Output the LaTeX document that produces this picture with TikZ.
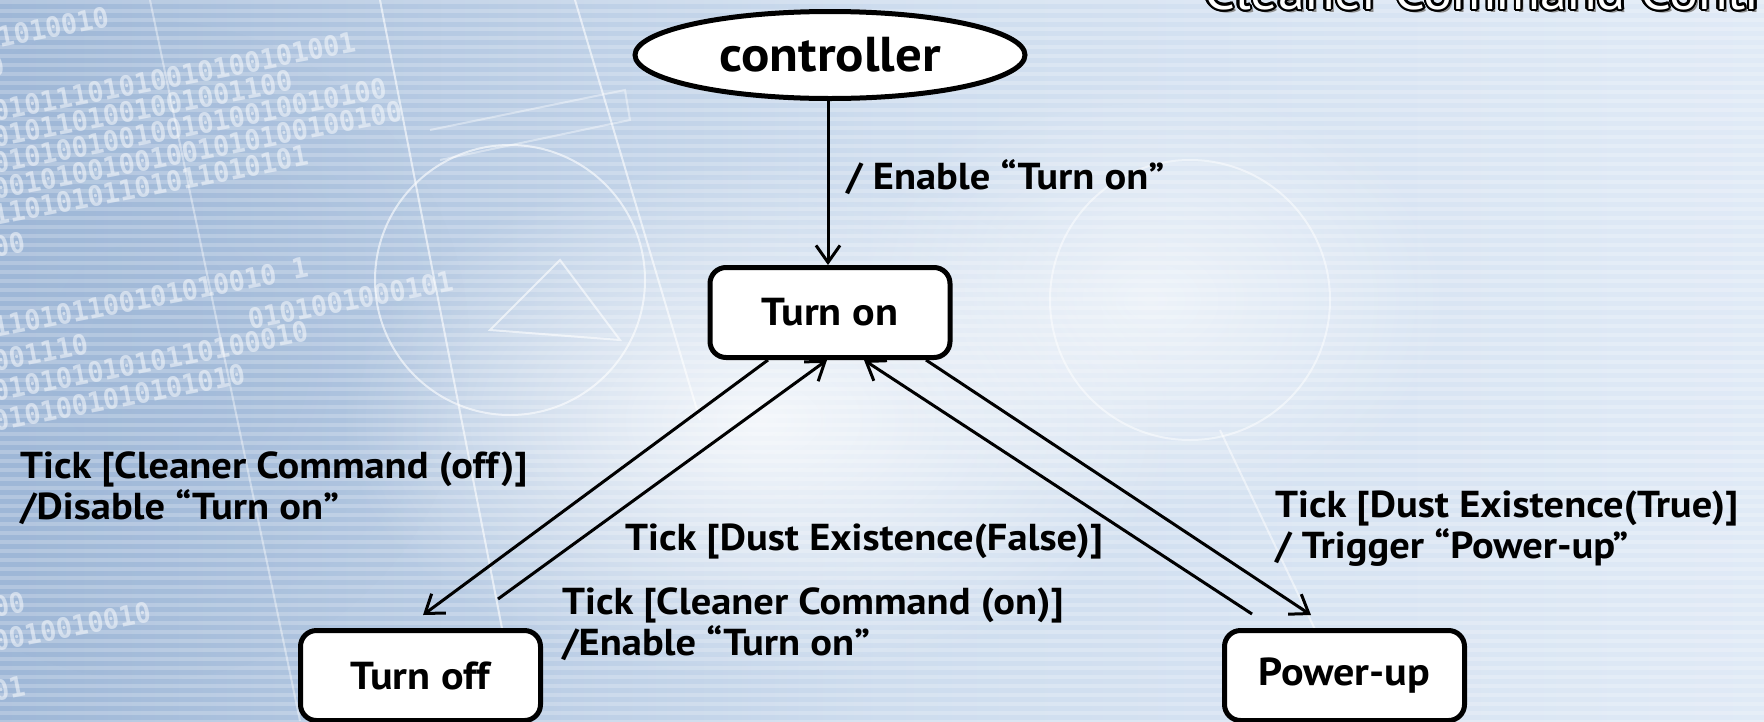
\documentclass[tikz,border=0pt]{standalone}
\usepackage{fontspec}
\setmainfont{PT Sans}[FakeStretch=1.08]
\newfontfamily\titlefamily{PT Sans}[FakeStretch=1.08]
\newfontfamily\digitfont{DejaVu Sans Mono}[FakeStretch=0.95]
\usetikzlibrary{arrows.meta,shapes.geometric,calc,fadings}

\definecolor{bgleft}{RGB}{158,183,215}
\definecolor{bgmid}{RGB}{205,220,238}
\definecolor{bgright}{RGB}{224,234,246}
\tikzfading[name=glow, inner color=transparent!0, outer color=transparent!100]

\newcommand\titletext{Cleaner Command Controller}

\begin{document}
\begin{tikzpicture}[x=1pt,y=-1pt,
  statebox/.style={draw=black, line width=5pt, fill=white, rounded corners=16pt,
    minimum width=240pt, minimum height=90pt, inner sep=0pt,
    font=\fontsize{39}{44}\selectfont\bfseries},
  ctrlnode/.style={ellipse, draw=black, line width=5pt, fill=white,
    minimum width=390pt, minimum height=87pt, inner sep=0pt,
    font=\fontsize{49}{54}\selectfont\bfseries},
  trans/.style={draw=black, line width=3pt,
    -{Straight Barb[length=17pt,width=24pt,line width=3pt]}},
  lbl/.style={font=\fontsize{37.5}{41}\selectfont\bfseries, align=left,
    anchor=west, inner sep=0pt},
  bits/.style={font=\digitfont\bfseries\fontsize{28}{32}\selectfont, text=white,
    opacity=0.5, rotate=11, anchor=base west, inner sep=0pt},
  deco/.style={draw=white, line width=2pt, opacity=0.6},
  titlefont/.style={font=\titlefamily\fontsize{50}{56}\selectfont, anchor=base west, inner sep=0pt},
]
\useasboundingbox (0,0) rectangle (1764,721);
\begin{scope}
\clip (0,0) rectangle (1764,721);

% backdrop
\shade[left color=bgleft, right color=bgright, middle color=bgmid,
  shading angle=90] (0,0) rectangle (1764,721);
\fill[white, path fading=glow, opacity=0.8] (760,420) ellipse [x radius=420pt, y radius=260pt];
\fill[white, path fading=glow, opacity=0.6] (1150,300) ellipse [x radius=300pt, y radius=220pt];
\fill[bgleft, path fading=glow, opacity=0.5] (150,350) ellipse [x radius=320pt, y radius=330pt];
\foreach \yy in {0,9,...,720}
  \fill[white, opacity=0.22] (0,\yy) rectangle (1764,\yy+4);

% faint grid lines and circles
\draw[deco] (380,0) -- (520,721);
\draw[deco] (575,0) -- (700,420);
\draw[deco, opacity=0.4] (150,0) -- (300,721);
\draw[deco, opacity=0.4] (430,130) -- (625,90) -- (630,120) -- (440,160);
\draw[deco] (510,280) circle [radius=135pt];
\draw[deco] (490,330) -- (560,260) -- (620,340) -- cycle;
\draw[deco, opacity=0.5] (1190,300) circle [radius=140pt];
\draw[deco, opacity=0.5] (1220,430) -- (1320,640);

% binary digits
\node[bits] at (0,48) {1010010};
\node[bits] at (-10,78) {0};
\node[bits] at (-5,122) {01011101010010100101001};
\node[bits] at (-5,148) {0101101001001001100};
\node[bits] at (-5,174) {0101001001001010010010100};
\node[bits] at (-5,200) {00101001001001010100100100};
\node[bits] at (-5,226) {11010101101011010101};
\node[bits] at (-5,258) {00};
\node[bits] at (-5,338) {110101100101010010 1};
\node[bits] at (-5,372) {001110};
\node[bits] at (250,330) {0101001000101};
\node[bits] at (-5,402) {01010101010110100010};
\node[bits] at (-5,432) {0101001010101010};
\node[bits] at (-5,618) {00};
\node[bits] at (-5,652) {0010010010};
\node[bits] at (-5,702) {01};

% title, outlined and clipped at the top edge
\coordinate (ttl) at (1204,9);
\node[titlefont, text=black!45] at ([shift={(3pt,-3pt)}]ttl) {\titletext};
\foreach \a in {0,22.5,...,337.5}
  \node[titlefont, text=black] at ([shift={(\a:2.4pt)}]ttl) {\titletext};
\node[titlefont, text=white] at (ttl) {\titletext};
\end{scope}

% states
\node[ctrlnode] (ctrl) at (830,55) {controller};
\node[statebox] (on) at (830,312.5) {Turn on};
\node[statebox] (off) at (420.5,675.5) {Turn off};
\node[statebox] (pwr) at (1344.5,675.5) {Power-up};

% transitions
\draw[trans] ([xshift=-2pt]ctrl.south) -- ([xshift=-2pt]on.north);
\draw[trans] ([xshift=-62pt]on.south) -- ([xshift=2.5pt,yshift=13pt]off.north);
\draw[trans] ([xshift=77.5pt,yshift=29pt]off.north) -- ([xshift=-3pt]on.south);
\draw[trans] ([xshift=-92.5pt,yshift=14pt]pwr.north) -- ([xshift=34pt]on.south);
\draw[trans] ([xshift=96pt]on.south) -- ([xshift=-33.5pt,yshift=13pt]pwr.north);

% transition labels
\node[lbl] (lenable) at (846,177) {/ Enable “Turn on”};
\node[lbl] (loff) at (20,488.5) {Tick [Cleaner Command (off)]\\/Disable “Turn on”};
\node[lbl] (lfalse) at (625,541) {Tick [Dust Existence(False)]};
\node[lbl] (lon) at (562,624.5) {Tick [Cleaner Command (on)]\\/Enable “Turn on”};
\node[lbl] (ltrue) at (1275,529) {Tick [Dust Existence(True)]\\/ Trigger “Power-up”};
\end{tikzpicture}
\end{document}
